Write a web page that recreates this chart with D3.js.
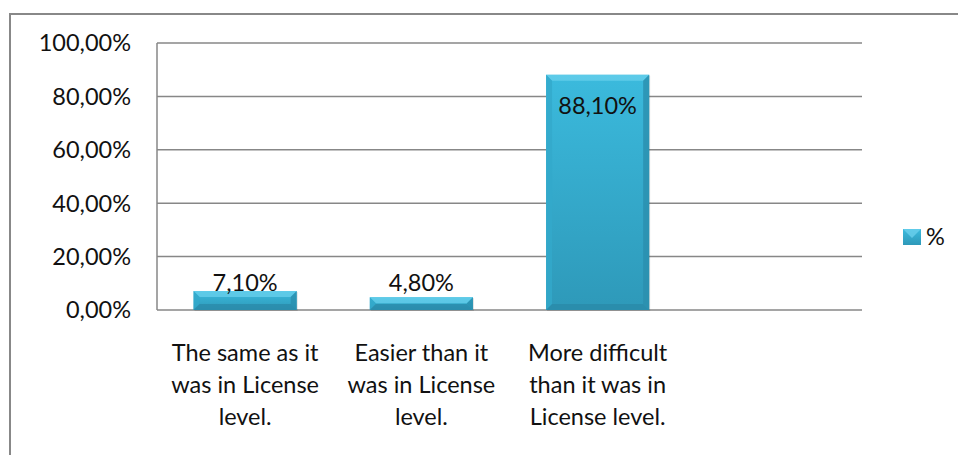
<!DOCTYPE html>
<html><head><meta charset="utf-8">
<script src="https://cdn.jsdelivr.net/npm/d3@7"></script>
<style>
html,body{margin:0;padding:0;background:#fff;}
svg{display:block;font-family:Lato,"Open Sans",sans-serif;}
</style></head>
<body><svg id="c" width="958" height="455"></svg>
<script>
const categories = [
  ["The same as it","was in License","level."],
  ["Easier than it","was in License","level."],
  ["More difficult","than it was in","License level."],
  [""]
];
const values = [7.1, 4.8, 88.1, null];
const labels = ["7,10%","4,80%","88,10%",""];
const yTicks = [0,20,40,60,80,100];
const yTickLabels = ["0,00%","20,00%","40,00%","60,00%","80,00%","100,00%"];
const seriesName = "%";

const svg = d3.select("#c");
const fs = 23.5;
const m = {left:157, right:862, top:43, bottom:310};

// outer border
svg.append("rect").attr("x",10).attr("y",14).attr("width",960).attr("height",460)
  .attr("fill","#fff").attr("stroke","#888").attr("stroke-width",2);

const x = d3.scaleBand().domain(d3.range(categories.length)).range([m.left,m.right]).paddingInner(0.415).paddingOuter(0.2075);
const y = d3.scaleLinear().domain([0,100]).range([m.bottom,m.top]);

const defs = svg.append("defs");
const g1 = defs.append("linearGradient").attr("id","bar").attr("x1",0).attr("y1",0).attr("x2",0).attr("y2",1);
g1.append("stop").attr("offset","0").attr("stop-color","#3bbadd");
g1.append("stop").attr("offset","1").attr("stop-color","#2e99b9");

// gridlines
svg.append("g").selectAll("line").data(yTicks).join("line")
  .attr("x1",m.left).attr("x2",m.right).attr("y1",d=>y(d)).attr("y2",d=>y(d))
  .attr("stroke","#878787").attr("stroke-width",1.5);
svg.append("line").attr("x1",m.left).attr("x2",m.left).attr("y1",m.top).attr("y2",m.bottom)
  .attr("stroke","#878787").attr("stroke-width",1.5);

// y labels
svg.append("g").selectAll("text").data(yTicks).join("text")
  .attr("x",131).attr("y",d=>y(d)).attr("dy","0.36em").attr("text-anchor","end")
  .attr("font-size",fs).attr("fill","#111").text((d,i)=>yTickLabels[i]);

// bars
const bw = x.bandwidth();
const bars = svg.append("g").selectAll("g").data(values.map((v,i)=>({v,i})).filter(d=>d.v!=null)).join("g");
bars.each(function(d){
  const g = d3.select(this);
  const x0 = x(d.i), x1 = x0+bw, y0 = y(d.v), y1 = y(0);
  const b = Math.min(6, (y1-y0)/2);
  g.append("rect").attr("x",x0+1).attr("y",y0+1).attr("width",bw).attr("height",y1-y0).attr("fill","#000").attr("opacity",0.12);
  g.append("rect").attr("x",x0).attr("y",y0).attr("width",bw).attr("height",y1-y0).attr("fill","url(#bar)");
  g.append("polygon").attr("points",[[x0,y0],[x1,y0],[x1-b,y0+b],[x0+b,y0+b]].join(" ")).attr("fill","#6ad0ec").attr("opacity",0.75);
  g.append("polygon").attr("points",[[x0,y0],[x0+b,y0+b],[x0+b,y1-b],[x0,y1]].join(" ")).attr("fill","#33a9cb").attr("opacity",0.8);
  g.append("polygon").attr("points",[[x1,y0],[x1-b,y0+b],[x1-b,y1-b],[x1,y1]].join(" ")).attr("fill","#2a8eae").attr("opacity",0.8);
  g.append("polygon").attr("points",[[x0,y1],[x0+b,y1-b],[x1-b,y1-b],[x1,y1]].join(" ")).attr("fill","#2a88a6").attr("opacity",0.7);
});

// value labels
bars.append("text").attr("x",d=>x(d.i)+bw/2)
  .attr("y",d=> d.v>50 ? y(d.v)+39 : Math.min(y(d.v), y(0)-19))
  .attr("text-anchor","middle").attr("font-size",fs).attr("fill","#111").text(d=>labels[d.i]);

// category labels
const cl = svg.append("g").selectAll("text").data(categories).join("text")
  .attr("x",(d,i)=>x(i)+bw/2).attr("y",361).attr("text-anchor","middle").attr("font-size",fs).attr("fill","#111");
cl.selectAll("tspan").data(d=>d).join("tspan").attr("x",function(){return d3.select(this.parentNode).attr("x");})
  .attr("dy",(d,i)=>i?32:0).text(d=>d);

// legend
const lg = svg.append("g");
lg.append("rect").attr("x",903).attr("y",229).attr("width",18).attr("height",16).attr("fill","url(#bar)");
lg.append("polygon").attr("points","903,229 921,229 912,238").attr("fill","#6ad0ec").attr("opacity",0.8);
lg.append("text").attr("x",926).attr("y",245).attr("font-size",fs).attr("fill","#111").text(seriesName);
</script></body></html>
